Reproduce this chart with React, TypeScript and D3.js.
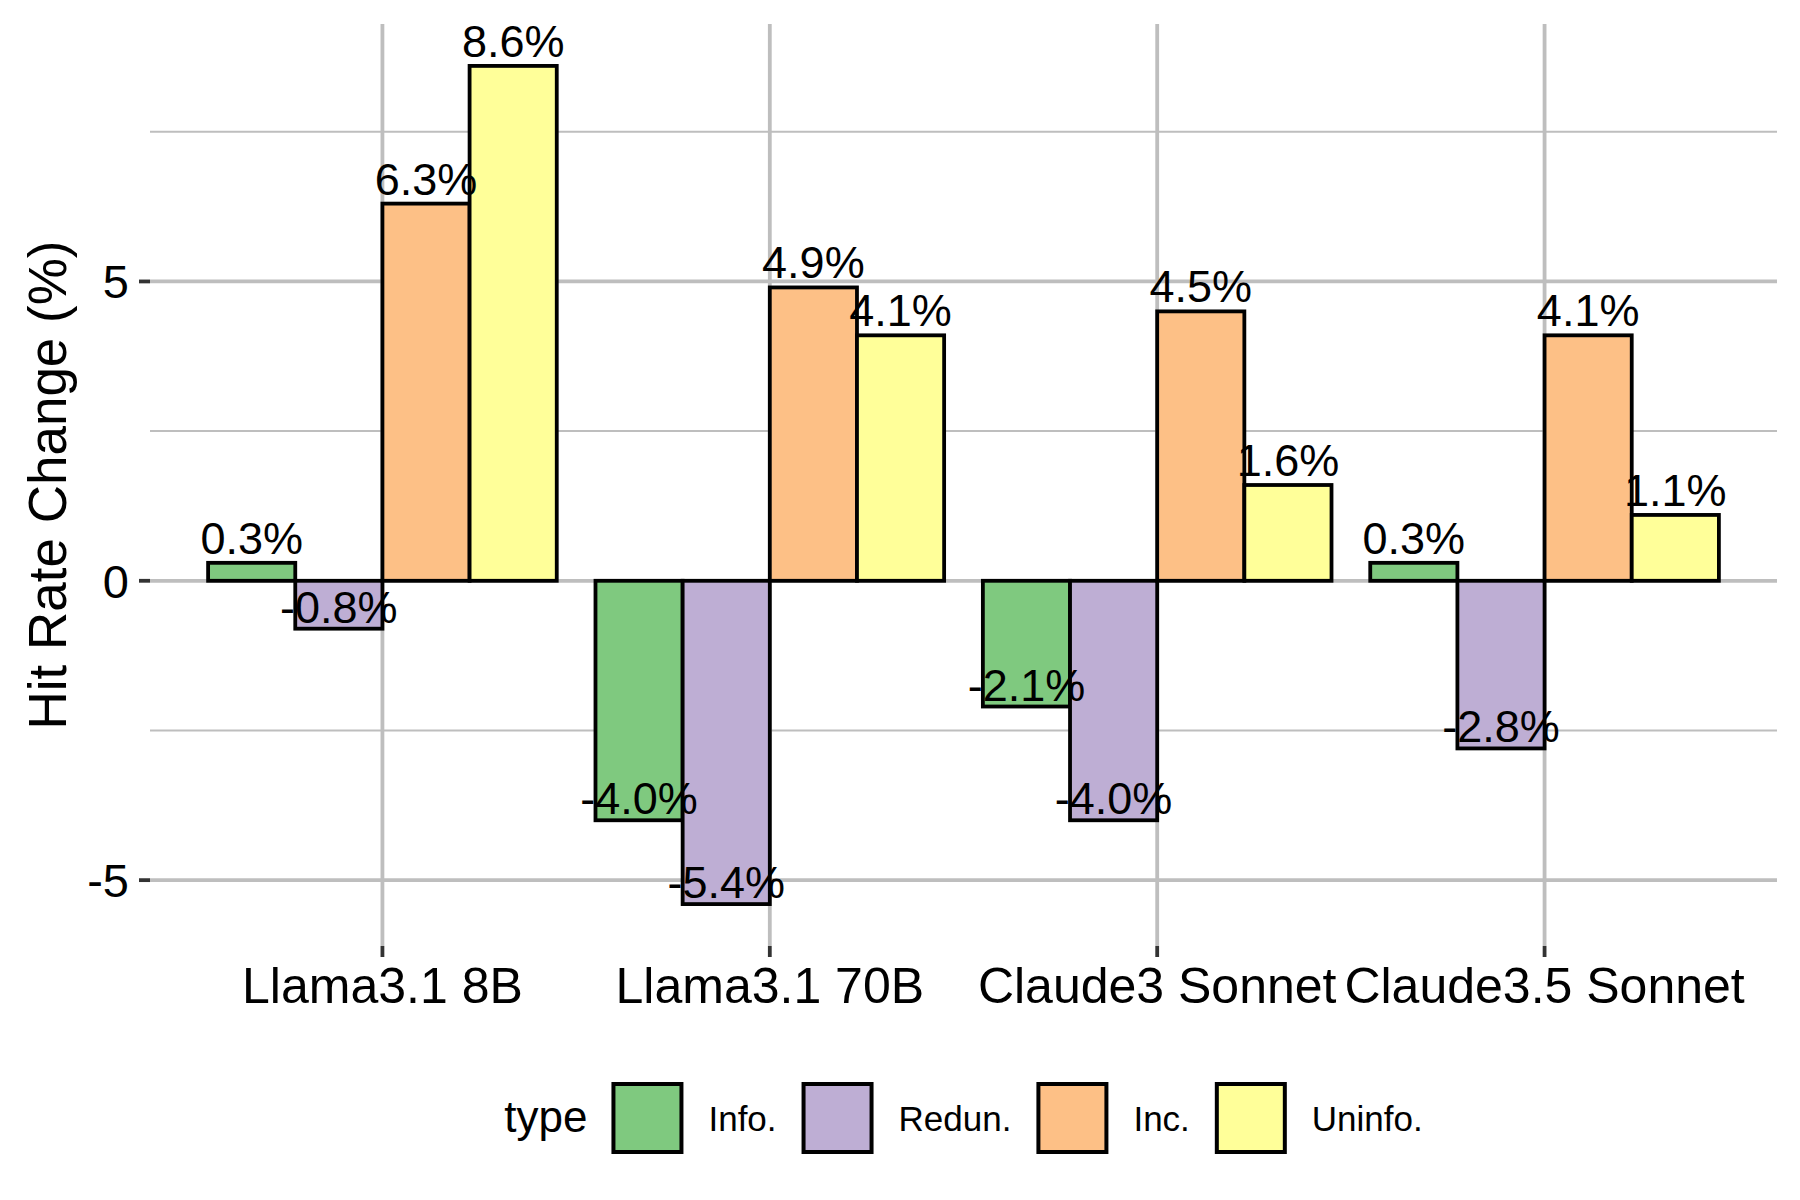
import React from "react";
import * as d3 from "d3";

const models = ["Llama3.1 8B", "Llama3.1 70B", "Claude3 Sonnet", "Claude3.5 Sonnet"];
const types = ["Info.", "Redun.", "Inc.", "Uninfo."];
const colors = ["#7FC97F", "#BEAED4", "#FDC086", "#FFFF99"];
const infoVals = [0.3, -4.0, -2.1, 0.3];
const redunVals = [-0.8, -5.4, -4.0, -2.8];
const incVals = [6.3, 4.9, 4.5, 4.1];
const uninfoVals = [8.6, 4.1, 1.6, 1.1];
const yMajorTicks = [-5, 0, 5];
const yMinorTicks = [-2.5, 2.5, 7.5];
const legendTitle = "type";
const yTitle = "Hit Rate Change (%)";

const W = 1800;
const H = 1200;
const FONT = "'Liberation Sans', Arial, Helvetica, sans-serif";

function measure(text: string, size: number) {
  const c = document.createElement("canvas");
  const ctx = c.getContext("2d");
  if (!ctx) return text.length * size * 0.55;
  ctx.font = `${size}px ${FONT}`;
  return ctx.measureText(text).width;
}

export default function App() {
  const series = [infoVals, redunVals, incVals, uninfoVals];
  const panel = { left: 150, right: 1777, top: 24, bottom: 946 };

  const allVals = series.flat().concat([0]);
  const lo = d3.min(allVals) as number;
  const hi = d3.max(allVals) as number;
  const pad = (hi - lo) * 0.05;
  const y = d3.scaleLinear().domain([lo - pad, hi + pad]).range([panel.bottom, panel.top]);

  const x = d3
    .scaleLinear()
    .domain([0.4, models.length + 0.6])
    .range([panel.left, panel.right]);
  const unit = x(1) - x(0);
  const dodge = 0.9;
  const barW = (dodge / types.length) * unit;
  const barX = (mi: number, ti: number) =>
    x(mi + 1) - (dodge / 2) * unit + ti * barW;

  const gridCol = "#BEBEBE";

  const titleSize = 44;
  const labelSize = 35;
  const keySize = 68;
  const gapAfterTitle = 26;
  const gapKeyLabel = 27;
  const gapItem = 27;
  const titleW = measure(legendTitle, titleSize);
  const labelWs = types.map((t) => measure(t, labelSize));
  const totalW =
    titleW + gapAfterTitle + d3.sum(labelWs.map((w) => keySize + gapKeyLabel + w)) + gapItem * (types.length - 1);
  const legendCx = (panel.left + panel.right) / 2;
  let cursor = legendCx - totalW / 2;
  const legendTitleX = cursor;
  cursor += titleW + gapAfterTitle;
  const legendItems = types.map((t, i) => {
    const kx = cursor;
    const tx = kx + keySize + gapKeyLabel;
    cursor = tx + labelWs[i] + gapItem;
    return { t, kx, tx, color: colors[i] };
  });
  const legendCy = 1118;

  return (
    <svg
      width={W}
      height={H}
      viewBox={`0 0 ${W} ${H}`}
      style={{ position: "absolute", left: 0, top: 0, background: "#fff" }}
      fontFamily={FONT}
    >
      <rect x={0} y={0} width={W} height={H} fill="#fff" />
      {yMinorTicks.map((t) => (
        <line key={`mn${t}`} x1={panel.left} x2={panel.right} y1={y(t)} y2={y(t)} stroke={gridCol} strokeWidth={2} />
      ))}
      {yMajorTicks.map((t) => (
        <line key={`mj${t}`} x1={panel.left} x2={panel.right} y1={y(t)} y2={y(t)} stroke={gridCol} strokeWidth={3.8} />
      ))}
      {models.map((m, i) => (
        <line key={`vx${m}`} x1={x(i + 1)} x2={x(i + 1)} y1={panel.top} y2={panel.bottom} stroke={gridCol} strokeWidth={3.8} />
      ))}
      {models.map((m, mi) =>
        series.map((vals, ti) => {
          const v = vals[mi];
          const y0 = y(0);
          const y1 = y(v);
          return (
            <rect
              key={`b${mi}-${ti}`}
              x={barX(mi, ti)}
              y={Math.min(y0, y1)}
              width={barW}
              height={Math.abs(y1 - y0)}
              fill={colors[ti]}
              stroke="#000"
              strokeWidth={3.8}
            />
          );
        })
      )}
      {models.map((m, mi) =>
        series.map((vals, ti) => {
          const v = vals[mi];
          return (
            <text
              key={`l${mi}-${ti}`}
              x={barX(mi, ti) + barW / 2}
              y={y(v) - (v >= 0 ? 9 : 6)}
              textAnchor="middle"
              fontSize={45}
              fill="#000"
            >
              {`${v.toFixed(1)}%`}
            </text>
          );
        })
      )}
      {yMajorTicks.map((t) => (
        <g key={`yt${t}`}>
          <line x1={panel.left - 11} x2={panel.left} y1={y(t)} y2={y(t)} stroke="#333" strokeWidth={3.8} />
          <text x={panel.left - 21} y={y(t)} dy="0.36em" textAnchor="end" fontSize={47} fill="#000">
            {t}
          </text>
        </g>
      ))}
      {models.map((m, i) => (
        <g key={`xt${m}`}>
          <line x1={x(i + 1)} x2={x(i + 1)} y1={panel.bottom} y2={panel.bottom + 11} stroke="#333" strokeWidth={3.8} />
          <text x={x(i + 1)} y={1003} textAnchor="middle" fontSize={50} fill="#000">
            {m}
          </text>
        </g>
      ))}
      <text
        transform={`translate(66, ${(panel.top + panel.bottom) / 2}) rotate(-90)`}
        textAnchor="middle"
        fontSize={53}
        fill="#000"
      >
        {yTitle}
      </text>
      <text x={legendTitleX} y={1132} fontSize={titleSize} fill="#000">
        {legendTitle}
      </text>
      {legendItems.map((it) => (
        <g key={`lg${it.t}`}>
          <rect
            x={it.kx}
            y={legendCy - keySize / 2}
            width={keySize}
            height={keySize}
            fill={it.color}
            stroke="#000"
            strokeWidth={4}
          />
          <text x={it.tx} y={1131} fontSize={labelSize} fill="#000">
            {it.t}
          </text>
        </g>
      ))}
    </svg>
  );
}
